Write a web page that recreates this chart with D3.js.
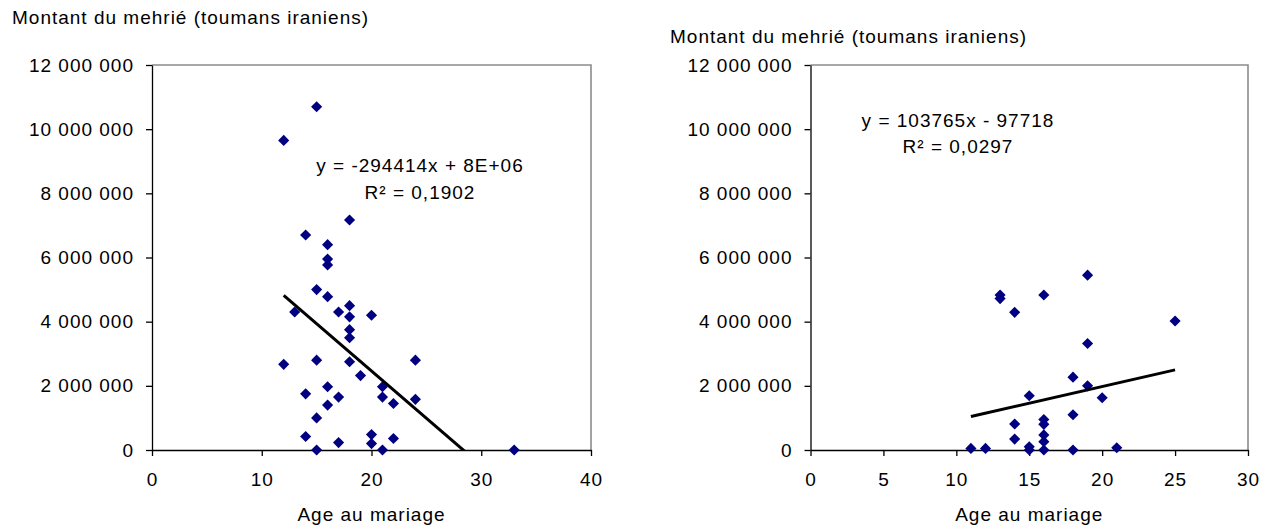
<!DOCTYPE html>
<html>
<head>
<meta charset="utf-8">
<script src="https://cdn.jsdelivr.net/npm/d3@7"></script>
<style>
  body { margin: 0; background: #fff; }
  svg text { font-family: "Liberation Sans", Arial, sans-serif; font-size: 19px; letter-spacing: 1px; fill: #000; }
</style>
</head>
<body>
<div id="container"></div>
<script>
// Mehrié amount vs age at marriage - two scatter plots with linear trendlines

// left sample
var leftAge  = [12, 15, 14, 18, 16, 16, 16, 15, 16, 18, 17, 13, 18, 20, 18, 18, 12, 15, 18, 24,
                19, 14, 16, 21, 17, 21, 24, 16, 22, 15, 14, 20, 20, 17, 22, 15, 21, 33];
var leftMehr = [9650000, 10700000, 6700000, 7170000, 6400000, 5950000, 5770000, 5000000, 4780000, 4500000,
                4300000, 4300000, 4150000, 4200000, 3750000, 3500000, 2670000, 2800000, 2750000, 2800000,
                2320000, 1750000, 1970000, 1970000, 1650000, 1650000, 1580000, 1400000, 1450000, 1000000,
                420000, 480000, 200000, 230000, 360000, 0, 0, 0];

// right sample
var rightAge  = [11, 12, 13, 13, 14, 14, 14, 15, 15, 15, 16, 16, 16, 16, 16, 16, 18, 18, 18, 19,
                 19, 19, 20, 21, 25];
var rightMehr = [50000, 50000, 4830000, 4720000, 4290000, 810000, 340000, 1690000, 100000, 0,
                 4830000, 950000, 800000, 470000, 260000, 0, 2270000, 1100000, 0, 5450000,
                 3320000, 2000000, 1630000, 70000, 4020000];

// trendline [slope, intercept]
var leftTrend  = [-294414, 8350000];
var rightTrend = [103765, -97718];

var leftEquation  = ["y = -294414x + 8E+06", "R\u00b2 = 0,1902"];
var rightEquation = ["y = 103765x - 97718", "R\u00b2 = 0,0297"];

var yTicks = [0, 2000000, 4000000, 6000000, 8000000, 10000000, 12000000];
var leftXTicks  = [0, 10, 20, 30, 40];
var rightXTicks = [0, 5, 10, 15, 20, 25, 30];

var yTitle = "Montant du mehrié (toumans iraniens)";
var xTitle = "Age au mariage";

// layout of each panel (pixels)
var panels = [
  {x0: 152, x1: 591, y0: 65, y1: 450, titleX: 12, titleY: 24, eqX: 420, eqY: [172, 199],
   ages: leftAge, values: leftMehr, trend: leftTrend, eq: leftEquation, xTicks: leftXTicks},
  {x0: 810.5, x1: 1248, y0: 65, y1: 450, titleX: 670, titleY: 43, eqX: 958, eqY: [127, 153],
   ages: rightAge, values: rightMehr, trend: rightTrend, eq: rightEquation, xTicks: rightXTicks}
];

var fr = d3.formatLocale({decimal: ",", thousands: " ", grouping: [3], currency: ["", " €"]});
var yFormat = fr.format(",d");

var svg = d3.select('#container').append('svg')
  .attr('width', 1274)
  .attr('height', 531);

var diamond = d3.symbol().type(d3.symbolSquare).size(62);

panels.forEach(function(p, idx) {
  var x = d3.scaleLinear()
    .domain([d3.min(p.xTicks), d3.max(p.xTicks)])
    .range([p.x0, p.x1]);
  var y = d3.scaleLinear()
    .domain([0, 12000000])
    .range([p.y1, p.y0]);

  var g = svg.append('g');

  // plot area border (top / right, grey)
  g.append('path')
    .attr('d', 'M' + p.x0 + ',' + p.y0 + 'H' + p.x1 + 'V' + p.y1)
    .attr('fill', 'none')
    .attr('stroke', '#8c8c8c')
    .attr('stroke-width', 1.6);

  // y axis
  var yAxis = d3.axisLeft(y)
    .tickValues(yTicks)
    .tickFormat(yFormat)
    .tickSize(6)
    .tickSizeOuter(0)
    .tickPadding(12);
  var yg = g.append('g')
    .attr('transform', 'translate(' + p.x0 + ',0)')
    .call(yAxis);

  // x axis
  var xAxis = d3.axisBottom(x)
    .tickValues(p.xTicks)
    .tickSize(6)
    .tickSizeOuter(0)
    .tickPadding(17);
  var xg = g.append('g')
    .attr('transform', 'translate(0,' + p.y1 + ')')
    .call(xAxis);

  [yg, xg].forEach(function(a) {
    a.attr('font-size', null).attr('font-family', null);
    a.select('.domain').attr('stroke', '#000').attr('stroke-width', 1.3);
    a.selectAll('.tick line').attr('stroke', '#000').attr('stroke-width', 1.3);
  });

  // titles
  g.append('text')
    .attr('x', p.titleX)
    .attr('y', p.titleY)
    .text(yTitle);

  g.append('text')
    .attr('x', (p.x0 + p.x1) / 2)
    .attr('y', 521)
    .attr('text-anchor', 'middle')
    .text(xTitle);

  // points
  var pts = p.ages.map(function(a, i) { return {age: a, v: p.values[i]}; });
  g.selectAll('.pt')
    .data(pts)
    .enter().append('path')
    .attr('class', 'pt')
    .attr('d', diamond)
    .attr('transform', function(d) { return 'translate(' + x(d.age) + ',' + y(d.v) + ') rotate(45)'; })
    .attr('fill', '#000080');

  // trendline, clipped to the plot area
  g.append('clipPath')
    .attr('id', 'clip' + idx)
    .append('rect')
    .attr('x', p.x0).attr('y', p.y0)
    .attr('width', p.x1 - p.x0).attr('height', p.y1 - p.y0);

  var ext = d3.extent(p.ages);
  g.append('line')
    .attr('clip-path', 'url(#clip' + idx + ')')
    .attr('x1', x(ext[0]))
    .attr('y1', y(p.trend[0] * ext[0] + p.trend[1]))
    .attr('x2', x(ext[1]))
    .attr('y2', y(p.trend[0] * ext[1] + p.trend[1]))
    .attr('stroke', '#000')
    .attr('stroke-width', 3);

  // equation label
  g.selectAll('.eq')
    .data(p.eq)
    .enter().append('text')
    .attr('class', 'eq')
    .attr('x', p.eqX)
    .attr('y', function(d, i) { return p.eqY[i]; })
    .attr('text-anchor', 'middle')
    .text(function(d) { return d; });
});
</script>
</body>
</html>
